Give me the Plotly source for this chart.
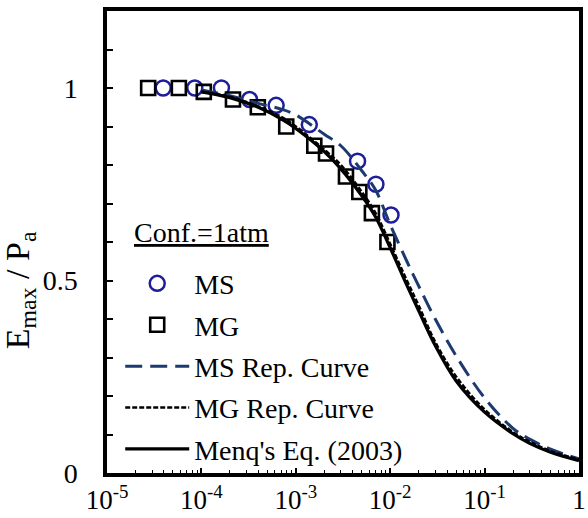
import plotly.graph_objects as go

# ---------------- data ----------------
ms_strain = [3.94e-5, 8.51e-5, 1.63e-4, 3.24e-4, 6.19e-4, 1.39e-3, 4.51e-3, 7.06e-3, 1.02e-2]
ms_ratio = [1.00, 1.00, 1.00, 0.97, 0.955, 0.905, 0.81, 0.75, 0.67]

mg_strain = [2.73e-5, 5.77e-5, 1.06e-4, 2.16e-4, 3.96e-4, 7.92e-4, 1.57e-3, 2.09e-3,
             3.40e-3, 4.71e-3, 6.40e-3, 9.35e-3]
mg_ratio = [1.00, 1.00, 0.99, 0.97, 0.95, 0.90, 0.85, 0.83, 0.77, 0.73, 0.675, 0.60]

curve_strain = [1e-4, 2e-4, 4e-4, 7e-4, 1e-3, 2e-3, 3e-3, 5e-3, 7e-3, 1e-2,
                1.5e-2, 2e-2, 3e-2, 5e-2, 0.1, 0.2, 0.3, 0.5, 1.0]
ms_curve = [0.995, 0.98, 0.96, 0.945, 0.93, 0.88, 0.85, 0.785, 0.735, 0.645,
            0.55, 0.486, 0.40, 0.304, 0.195, 0.116, 0.088, 0.062, 0.037]
mg_curve = [0.99, 0.977, 0.952, 0.925, 0.90, 0.84, 0.80, 0.73, 0.675, 0.595,
            0.50, 0.435, 0.34, 0.25, 0.165, 0.106, 0.081, 0.057, 0.035]
menq_curve = [0.99, 0.975, 0.95, 0.92, 0.895, 0.835, 0.79, 0.72, 0.665, 0.585,
              0.488, 0.422, 0.331, 0.239, 0.158, 0.102, 0.077, 0.054, 0.032]

x_tickvals = [1e-5, 1e-4, 1e-3, 1e-2, 1e-1, 1]
x_ticktext = ["10<sup>-5</sup>", "10<sup>-4</sup>", "10<sup>-3</sup>",
              "10<sup>-2</sup>", "10<sup>-1</sup>", "1"]
x_minor_ticks = [m * 10.0 ** e for e in range(-5, 0) for m in range(2, 10)]
y_tickvals = [0, 0.5, 1.0]
y_ticktext = ["0", "0.5", "1"]
y_minor_ticks = [0.1, 0.2, 0.3, 0.4, 0.6, 0.7, 0.8, 0.9, 1.1, 1.2]

FONT = "Times New Roman, Liberation Serif, serif"
NAVY_MARK = "#1e1e9a"
NAVY_LINE = "#1c3a70"

fig = go.Figure()

fig.add_trace(go.Scatter(
    x=ms_strain, y=ms_ratio, mode="markers", name="MS", legendgroup="a",
    marker=dict(symbol="circle-open", size=15, color=NAVY_MARK, line=dict(width=2.5, color=NAVY_MARK))))
fig.add_trace(go.Scatter(
    x=mg_strain, y=mg_ratio, mode="markers", name="MG", legendgroup="b",
    marker=dict(symbol="square-open", size=14, color="black", line=dict(width=2.6, color="black"))))
fig.add_trace(go.Scatter(
    x=curve_strain, y=ms_curve, mode="lines", name="MS Rep. Curve", legendgroup="c",
    line=dict(color=NAVY_LINE, width=3, dash="17px,8px", shape="spline")))
fig.add_trace(go.Scatter(
    x=curve_strain, y=mg_curve, mode="lines", name="MG Rep. Curve", legendgroup="d",
    line=dict(color="black", width=2.6, dash="5px,2px", shape="spline")))
fig.add_trace(go.Scatter(
    x=curve_strain, y=menq_curve, mode="lines", name="Menq's Eq. (2003)", legendgroup="e",
    line=dict(color="black", width=3.2, shape="spline")))

fig.update_layout(
    width=588, height=518,
    margin=dict(l=107, r=2, t=11, b=45),
    paper_bgcolor="white", plot_bgcolor="white",
    font=dict(family=FONT, color="black", size=26),
    showlegend=True,
    legend=dict(
        x=0.028, y=0.464, xanchor="left", yanchor="top",
        bgcolor="rgba(0,0,0,0)", font=dict(family=FONT, size=28, color="black"),
        traceorder="grouped", tracegroupgap=2, itemwidth=64,
    ),
    annotations=[
        dict(text="<u>Conf.=1atm</u>", xref="paper", yref="paper",
             x=0.052, y=0.52, xanchor="left", yanchor="middle", showarrow=False,
             font=dict(family=FONT, size=28, color="black")),
        dict(text="E<sub>max</sub> / P<sub>a</sub>", xref="paper", yref="paper",
             x=-0.185, y=0.395, xanchor="center", yanchor="middle", showarrow=False,
             textangle=-90, font=dict(family=FONT, size=34, color="black")),
    ],
)

fig.update_xaxes(
    type="log", range=[-5, 0],
    tickmode="array", tickvals=x_tickvals, ticktext=x_ticktext,
    ticks="inside", ticklen=5, tickwidth=1.5, tickcolor="black",
    ticklabeloverflow="allow",
    minor=dict(tickmode="array", tickvals=x_minor_ticks, ticks="inside", ticklen=3,
               tickwidth=1.2, tickcolor="black", showgrid=False),
    showline=True, linewidth=3.5, linecolor="black", mirror=True,
    showgrid=False, zeroline=False,
    tickfont=dict(family=FONT, size=27, color="black"),
)
fig.update_yaxes(
    range=[0, 1.2],
    tickmode="array", tickvals=y_tickvals, ticktext=y_ticktext,
    ticks="inside", ticklen=6, tickwidth=1.5, tickcolor="black",
    minor=dict(tickmode="array", tickvals=y_minor_ticks, ticks="inside", ticklen=6,
               tickwidth=1.5, tickcolor="black", showgrid=False),
    showline=True, linewidth=3.5, linecolor="black", mirror=True,
    showgrid=False, zeroline=False,
    ticklabelstandoff=20,
    tickfont=dict(family=FONT, size=28, color="black"),
)

fig.write_html("out.html")
